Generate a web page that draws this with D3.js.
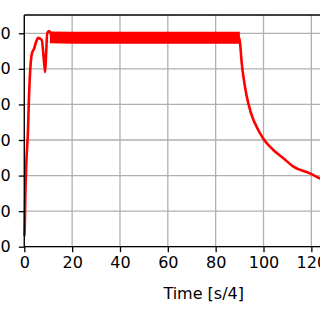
<!DOCTYPE html>
<html><head><meta charset="utf-8">
<script src="https://cdn.jsdelivr.net/npm/d3@7/dist/d3.min.js"></script>
<style>html,body{margin:0;padding:0;background:#fff;overflow:hidden}svg{display:block}</style>
</head><body>
<script>
// Main trace (time in s/4, value)
const traceTime  = [0, 0.17, 0.42, 0.84, 1.55, 1.96, 2.26, 2.68, 3.2, 4.05, 4.9, 5.85, 7.3, 8.0, 8.7, 9.1, 9.6, 10.5, 11.5, 14, 20, 40, 60, 80, 89.8, 90.2, 90.9, 91.8, 93.0, 94.8, 97.8, 100.3, 104.1, 108.3, 112.5, 119.4, 123.6, 130];
const traceValue = [30, 47, 141, 234, 328, 422, 469, 516, 544, 556, 575, 587, 581, 539, 491, 539, 601, 606, 592, 588, 588, 588, 588, 588, 588, 572, 516, 469, 422, 375, 328, 300, 272, 249, 225, 206, 192, 173];
// Envelope of the fast oscillation on the plateau
const bandTime  = [11, 20, 40, 60, 80, 89.8];
const bandUpper = [603, 602, 602, 602, 602, 602];
const bandLower = [574, 573, 573, 573, 573, 573];
// Axes
const xTicks = [0, 20, 40, 60, 80, 100, 120, 140];
const yTicks = [0, 100, 200, 300, 400, 500, 600];
const xLabel = "Time [s/4]";

const W = 320, H = 320;
const svg = d3.select("body").append("svg").attr("width", W).attr("height", H);
const mLeft = 24.3, mTop = 15, mBottom = 246.7;
const x = d3.scaleLinear().domain([0, 150]).range([mLeft, mLeft + 150 * 2.392]);
const y = d3.scaleLinear().domain([0, 600]).range([mBottom, mBottom - 6 * 35.57]);
const font = "DejaVu Sans, sans-serif";

// grid
const g = svg.append("g");
g.selectAll(".gx").data(xTicks).join("line")
  .attr("x1", d => x(d)).attr("x2", d => x(d)).attr("y1", mTop).attr("y2", mBottom)
  .attr("stroke", "#b0b0b0").attr("stroke-width", 1.3);
g.selectAll(".gy").data(yTicks).join("line")
  .attr("x1", mLeft).attr("x2", x(150)).attr("y1", d => y(d)).attr("y2", d => y(d))
  .attr("stroke", "#b0b0b0").attr("stroke-width", 1.3);

// band
const area = d3.area().x((d, i) => x(bandTime[i])).y0((d, i) => y(bandLower[i])).y1((d, i) => y(bandUpper[i]));
svg.append("path").datum(bandTime).attr("d", area).attr("fill", "#ff0000")
  .attr("stroke", "#ff0000").attr("stroke-width", 1.5);

// line
const line = d3.line().x((d, i) => x(traceTime[i])).y((d, i) => y(traceValue[i])).curve(d3.curveMonotoneX);
svg.append("path").datum(traceTime).attr("d", line).attr("fill", "none")
  .attr("stroke", "#ff0000").attr("stroke-width", 2.6).attr("stroke-linejoin", "round");

// axes
const xAxis = d3.axisBottom(x).tickValues(xTicks).tickSize(5.5).tickPadding(4).tickFormat(d3.format("d"));
const gx = svg.append("g").attr("transform", `translate(0,${mBottom})`).call(xAxis);
const yAxis = d3.axisLeft(y).tickValues(yTicks).tickSize(5.5).tickPadding(8).tickFormat(d3.format("d"));
const gy = svg.append("g").attr("transform", `translate(${mLeft},0)`).call(yAxis);
[gx, gy].forEach(a => {
  a.select(".domain").remove();
  a.selectAll(".tick line").attr("stroke", "#000").attr("stroke-width", 1.3);
  a.selectAll(".tick text").attr("font-family", font).attr("font-size", 16).attr("fill", "#000");
});
// spines
svg.append("line").attr("x1", mLeft).attr("x2", mLeft).attr("y1", mTop).attr("y2", mBottom).attr("stroke", "#000").attr("stroke-width", 1.3);
svg.append("line").attr("x1", mLeft).attr("x2", x(150)).attr("y1", mBottom).attr("y2", mBottom).attr("stroke", "#000").attr("stroke-width", 1.3);
svg.append("line").attr("x1", mLeft).attr("x2", x(150)).attr("y1", mTop).attr("y2", mTop).attr("stroke", "#000").attr("stroke-width", 1.3);

svg.append("text").attr("x", (mLeft + x(150)) / 2).attr("y", 299).attr("text-anchor", "middle")
  .attr("font-family", font).attr("font-size", 16).attr("fill", "#000").text(xLabel);
</script>
</body></html>
